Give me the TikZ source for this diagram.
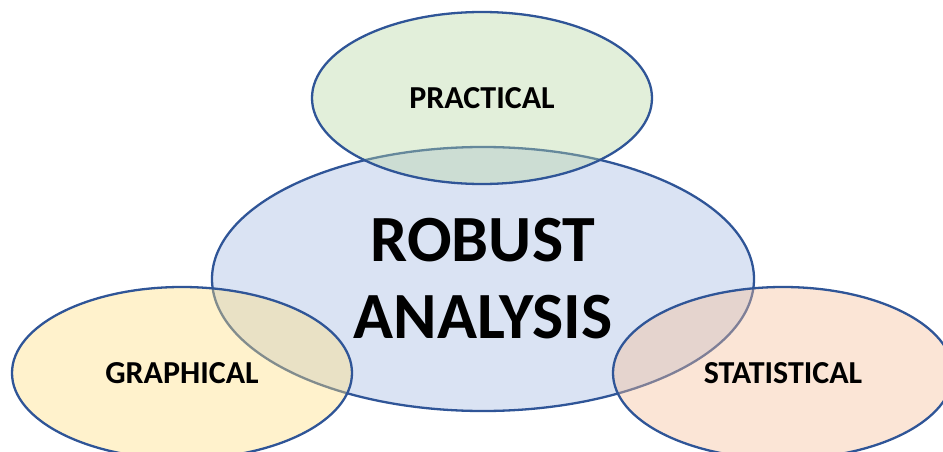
\documentclass[tikz,border=0pt]{standalone}
\usepackage{fontspec}
\setmainfont{Carlito}
\usetikzlibrary{shapes.geometric}
\definecolor{edgeblue}{HTML}{2F5597}
\definecolor{tblue}{HTML}{4472C4}
\definecolor{tgreen}{HTML}{70AD47}
\definecolor{tgold}{HTML}{FFC000}
\definecolor{torange}{HTML}{ED7D31}
\begin{document}
\begin{tikzpicture}[x=1pt,y=-1pt,
  blob/.style={ellipse, draw=edgeblue, line width=2.3pt, inner sep=0pt,
    fill opacity=0.4, draw opacity=1, text opacity=1, text=black,
    font=\bfseries\fontsize{32}{38}\selectfont},
  small/.style={blob, minimum width=340pt, minimum height=172pt}]
\useasboundingbox (0,0) rectangle (943,452);
% central ellipse
\node[blob, fill=tblue!50!white, minimum width=542pt, minimum height=264pt,
  align=center, font=\bfseries\fontsize{66}{77}\selectfont] (robust) at (483,279) {ROBUST\\ANALYSIS};
% three satellite ellipses
\node[small, fill=tgreen!50!white] (practical) at (482,98) {PRACTICAL};
\node[small, fill=tgold!50!white] (graphical) at (182,373) {GRAPHICAL};
\node[small, fill=torange!50!white] (statistical) at (783,373) {STATISTICAL};
\end{tikzpicture}
\end{document}
